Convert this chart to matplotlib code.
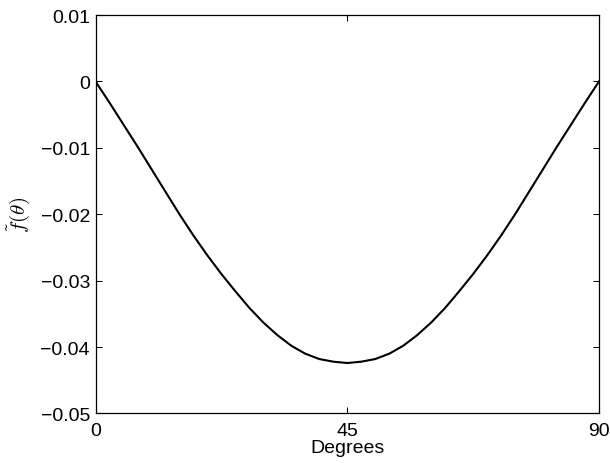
import matplotlib
matplotlib.use("Agg")
import matplotlib.pyplot as plt

degrees = [0, 2.5, 5, 7.5, 10, 12.5, 15, 17.5, 20, 22.5, 25, 27.5, 30, 32.5, 35, 37.5, 40, 42.5, 45,
           47.5, 50, 52.5, 55, 57.5, 60, 62.5, 65, 67.5, 70, 72.5, 75, 77.5, 80, 82.5, 85, 87.5, 90]
f_tilde = [0.0, -0.0032, -0.0065, -0.0098, -0.0132, -0.0166, -0.0200, -0.0232, -0.0262, -0.0290,
           -0.0316, -0.0341, -0.0363, -0.0382, -0.0398, -0.0410, -0.0418, -0.0422, -0.0424,
           -0.0422, -0.0418, -0.0410, -0.0398, -0.0382, -0.0363, -0.0341, -0.0316, -0.0290,
           -0.0262, -0.0232, -0.0200, -0.0166, -0.0132, -0.0098, -0.0065, -0.0032, 0.0]

x_ticks = [0, 45, 90]
x_tick_labels = ["0", "45", "90"]
y_ticks = [-0.05, -0.04, -0.03, -0.02, -0.01, 0.0, 0.01]
y_tick_labels = ["\u22120.05", "\u22120.04", "\u22120.03", "\u22120.02", "\u22120.01", "0", "0.01"]

plt.rcParams['font.family'] = ['Liberation Sans', 'DejaVu Sans']
plt.rcParams['mathtext.fontset'] = 'cm'

fig = plt.figure(figsize=(6.1, 4.64), dpi=100)
ax = fig.add_axes([0.1566, 0.1067, 0.8254, 0.8588])
ax.plot(degrees, f_tilde, color='black', lw=1.5, solid_joinstyle='round')
ax.set_xlim(0, 90)
ax.set_ylim(-0.05, 0.01)
ax.set_xticks(x_ticks)
ax.set_xticklabels(x_tick_labels)
ax.set_yticks(y_ticks)
ax.set_yticklabels(y_tick_labels)
ax.tick_params(direction='in', top=True, right=True, length=4, width=0.75,
               labelsize=14)
ax.tick_params(axis='x', pad=6)
ax.tick_params(axis='y', pad=4)
for s in ax.spines.values():
    s.set_linewidth(0.9)
ax.set_xlabel("Degrees", fontsize=14, labelpad=0)
ax.set_ylabel(r"$\tilde{f}(\theta)$", fontsize=15, labelpad=6)

fig.savefig("out.png", dpi=100)
